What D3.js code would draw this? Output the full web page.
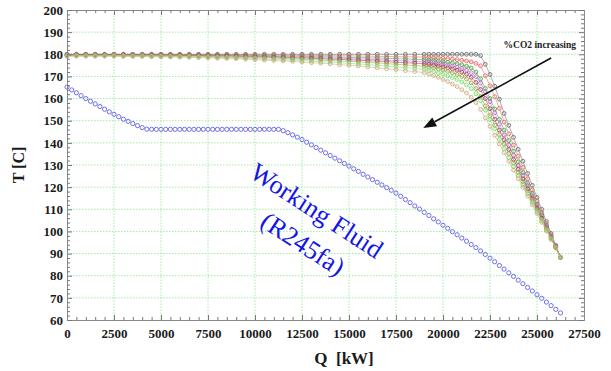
<!DOCTYPE html>
<html>
<head>
<meta charset="utf-8">
<script src="https://cdn.jsdelivr.net/npm/d3@7"></script>
<style>
  body { margin: 0; background: #fff; }
  svg { display: block; font-family: "Liberation Serif", "Times New Roman", serif; }
</style>
</head>
<body>
<svg id="chart" width="611" height="371"></svg>
<script>
// ---- data ----
const xTicks = [0, 2500, 5000, 7500, 10000, 12500, 15000, 17500, 20000, 22500, 25000, 27500];
const yTicks = [60, 70, 80, 90, 100, 110, 120, 130, 140, 150, 160, 170, 180, 190, 200];

// working fluid (R245fa), Q every 250 kW
const qWorking = d3.range(0, 26251, 250);
const tWorking = [
  165.2, 163.9, 162.6, 161.3, 160.0, 158.8, 157.6, 156.4, 155.2, 154.0, 152.9, 151.8, 150.7, 149.7, 148.7, 147.8, 146.9, 146.2,
  146.1, 146.1, 146.1, 146.1, 146.1, 146.1, 146.1, 146.1, 146.1, 146.1, 146.1, 146.1, 146.1, 146.1,
  146.1, 146.1, 146.1, 146.1, 146.1, 146.1, 146.1, 146.1, 146.1, 146.1, 146.1, 146.1, 146.1, 146.1,
  145.5, 144.6, 143.6, 142.6, 141.5, 140.3, 139.1, 137.9, 136.7, 135.5, 134.3, 133.1, 131.9, 130.7, 129.5,
  128.3, 127.1, 125.8, 124.6, 123.4, 122.2, 121.0, 119.8, 118.6, 117.3, 115.9, 114.4, 113.0, 111.5, 110.1,
  108.6, 107.2, 105.7, 104.3, 102.8, 101.4, 99.9, 98.5, 97.0, 95.6, 94.1, 92.7, 91.2, 89.6, 87.9,
  86.3, 84.6, 83.0, 81.3, 79.7, 78.0, 76.4, 74.7, 73.1, 71.4, 69.8, 68.1, 66.5, 64.8, 63.2
];

// flue gas curves, Q every 500 kW up to 18500 then every 250 kW
const qCO2 = d3.range(0, 19000, 500).concat(d3.range(19000, 26251, 250));
const co2Colors = ["#6e6e6e", "#e86a6a", "#44aa44", "#c86ad0", "#9a4858", "#a4a040", "#7ae07a", "#cfae80"];
const tCO2_1 = [
  180.0, 180.0, 180.0, 180.0, 180.0, 180.0, 180.0, 180.0, 180.0, 180.0, 180.0, 180.0, 180.0, 180.0, 180.0, 180.0, 180.0, 180.0, 180.0,
  180.0, 180.0, 180.0, 180.0, 180.0, 180.0, 180.0, 180.0, 180.0, 180.0, 180.0, 180.0, 180.0, 180.0, 180.0, 180.0, 180.0, 180.0, 180.0,
  180.0, 180.0, 180.0, 180.0, 180.0, 180.0, 180.0, 180.0, 180.0, 180.0, 180.0, 180.0,
  179.4, 175.5, 170.9, 165.6, 159.7, 153.3, 147.9, 142.5, 137.1, 131.7, 126.2, 120.8, 115.4, 110.0, 104.5, 99.1, 93.7, 88.3
];
const tCO2_2 = [
  180.0, 180.0, 180.0, 180.0, 180.0, 180.0, 180.0, 180.0, 180.0, 180.0, 180.0, 179.9, 179.9, 179.9, 179.9, 179.9, 179.9, 179.8, 179.8,
  179.8, 179.7, 179.7, 179.7, 179.6, 179.6, 179.5, 179.5, 179.4, 179.4, 179.3, 179.3, 179.2, 179.2, 179.1, 179.0, 178.9, 178.9, 178.8,
  178.7, 178.6, 178.5, 178.4, 178.2, 178.0, 177.8, 177.6, 177.3, 177.0, 176.6, 175.9,
  174.8, 170.3, 165.8, 160.9, 155.6, 149.4, 144.1, 139.0, 134.0, 128.9, 123.8, 118.8, 113.7, 108.6, 103.6, 98.5, 93.4, 88.3
];
const tCO2_3 = [
  179.9, 179.9, 179.9, 179.9, 179.9, 179.9, 179.9, 179.9, 179.9, 179.8, 179.8, 179.8, 179.8, 179.7, 179.7, 179.7, 179.6, 179.6, 179.5,
  179.5, 179.4, 179.4, 179.3, 179.2, 179.2, 179.1, 179.0, 178.9, 178.8, 178.7, 178.6, 178.5, 178.4, 178.3, 178.2, 178.0, 177.9, 177.7,
  177.6, 177.4, 177.2, 177.0, 176.7, 176.4, 176.1, 175.7, 175.2, 174.6, 173.8, 172.0,
  168.9, 164.6, 160.0, 155.3, 150.6, 145.8, 141.0, 136.2, 131.4, 126.6, 121.8, 117.1, 112.3, 107.5, 102.7, 97.9, 93.1, 88.3
];
const tCO2_4 = [
  179.8, 179.8, 179.8, 179.8, 179.8, 179.8, 179.8, 179.8, 179.7, 179.7, 179.7, 179.7, 179.6, 179.6, 179.5, 179.5, 179.4, 179.4, 179.3,
  179.2, 179.2, 179.1, 179.0, 178.9, 178.8, 178.7, 178.6, 178.4, 178.3, 178.2, 178.0, 177.9, 177.7, 177.6, 177.4, 177.2, 177.0, 176.8,
  176.6, 176.4, 176.1, 175.8, 175.5, 175.1, 174.7, 174.2, 173.6, 172.8, 171.7, 169.9,
  167.0, 163.1, 158.6, 153.6, 148.4, 143.6, 139.0, 134.4, 129.8, 125.3, 120.7, 116.1, 111.5, 106.9, 102.3, 97.6, 93.0, 88.4
];
const tCO2_5 = [
  179.7, 179.7, 179.7, 179.7, 179.7, 179.7, 179.7, 179.6, 179.6, 179.6, 179.6, 179.5, 179.5, 179.4, 179.4, 179.3, 179.2, 179.2, 179.1,
  179.0, 178.9, 178.8, 178.7, 178.6, 178.4, 178.3, 178.2, 178.0, 177.8, 177.7, 177.5, 177.3, 177.1, 176.9, 176.7, 176.4, 176.2, 176.0,
  175.7, 175.4, 175.1, 174.7, 174.3, 173.9, 173.4, 172.8, 172.0, 171.0, 169.6, 167.3,
  164.1, 160.0, 155.4, 150.6, 145.8, 141.4, 137.0, 132.5, 128.1, 123.7, 119.3, 114.9, 110.5, 106.0, 101.6, 97.2, 92.8, 88.4
];
const tCO2_6 = [
  179.5, 179.5, 179.5, 179.5, 179.5, 179.5, 179.5, 179.4, 179.4, 179.4, 179.3, 179.3, 179.2, 179.2, 179.1, 179.0, 178.9, 178.8, 178.7,
  178.6, 178.5, 178.4, 178.3, 178.1, 177.9, 177.8, 177.6, 177.4, 177.2, 177.0, 176.8, 176.6, 176.3, 176.1, 175.8, 175.5, 175.2, 174.9,
  174.6, 174.2, 173.8, 173.4, 172.9, 172.3, 171.7, 170.9, 170.0, 168.8, 167.1, 164.5,
  160.9, 156.7, 152.3, 148.0, 143.7, 139.5, 135.2, 131.0, 126.7, 122.5, 118.3, 114.0, 109.8, 105.5, 101.3, 97.0, 92.8, 88.4
];
const tCO2_7 = [
  179.3, 179.3, 179.3, 179.3, 179.3, 179.3, 179.2, 179.2, 179.2, 179.1, 179.1, 179.0, 179.0, 178.9, 178.8, 178.7, 178.6, 178.5, 178.4,
  178.2, 178.1, 177.9, 177.7, 177.6, 177.4, 177.2, 176.9, 176.7, 176.5, 176.2, 175.9, 175.6, 175.3, 175.0, 174.7, 174.3, 174.0, 173.6,
  173.2, 172.7, 172.2, 171.6, 171.0, 170.3, 169.5, 168.6, 167.5, 166.2, 164.5, 162.2,
  159.1, 154.8, 150.6, 146.4, 141.5, 137.4, 133.3, 129.3, 125.2, 121.1, 117.0, 113.0, 108.9, 104.8, 100.7, 96.6, 92.5, 88.4
];
const tCO2_8 = [
  179.1, 179.1, 179.1, 179.1, 179.1, 179.1, 179.0, 179.0, 179.0, 178.9, 178.8, 178.8, 178.7, 178.6, 178.5, 178.4, 178.2, 178.1, 178.0,
  177.8, 177.6, 177.4, 177.2, 177.0, 176.8, 176.5, 176.2, 176.0, 175.7, 175.3, 175.0, 174.7, 174.3, 173.9, 173.5, 173.1, 172.6, 172.2,
  171.7, 171.1, 170.4, 169.6, 168.7, 167.7, 166.6, 165.4, 164.0, 162.5, 160.6, 158.2,
  155.1, 151.3, 147.4, 143.4, 139.5, 135.6, 131.7, 127.7, 123.8, 119.9, 115.9, 112.0, 108.1, 104.1, 100.2, 96.3, 92.4, 88.4
];
const co2Series = [tCO2_1, tCO2_2, tCO2_3, tCO2_4, tCO2_5, tCO2_6, tCO2_7, tCO2_8];

// annotation anchors in data units [Q, T]
const arrowFrom = [25750, 178.3];
const arrowTo = [18950, 146.7];
const co2Label = [25150, 182.8];
const fluidLabel1 = [13030, 106.1];
const fluidLabel2 = [12290, 91.1];

// ---- layout ----
const W = 611, H = 371;
const margin = {top: 10, right: 27, bottom: 51, left: 67};
const svg = d3.select("#chart");

const x = d3.scaleLinear().domain([0, 27500]).range([margin.left, W - margin.right]);
const y = d3.scaleLinear().domain([60, 200]).range([H - margin.bottom, margin.top]);

const xMinor = d3.range(0, 27501, 500).filter(v => v % 2500 !== 0);
const yMinor = d3.range(60, 201, 2).filter(v => v % 10 !== 0);

// grid
const grid = svg.append("g").attr("stroke", "#a4eaa4").attr("stroke-width", 1).attr("stroke-dasharray", "1.5,1.5");
grid.selectAll(".gx").data(xTicks.slice(1, -1)).join("line")
  .attr("x1", d => x(d)).attr("x2", d => x(d))
  .attr("y1", y(60)).attr("y2", y(200));
grid.selectAll(".gy").data(yTicks.slice(1, -1)).join("line")
  .attr("x1", x(0)).attr("x2", x(27500))
  .attr("y1", d => y(d)).attr("y2", d => y(d));

// series
const lineGen = d3.line().x(d => x(d[0])).y(d => y(d[1]));

co2Series.forEach((tv, i) => {
  const pts = qCO2.map((q, j) => [q, tv[j]]);
  const g = svg.append("g");
  g.append("path").datum(pts)
    .attr("d", lineGen).attr("fill", "none")
    .attr("stroke", co2Colors[i]).attr("stroke-width", 0.8).attr("opacity", 0.7);
  g.selectAll("circle").data(pts).join("circle")
    .attr("cx", d => x(d[0])).attr("cy", d => y(d[1])).attr("r", 1.9)
    .attr("fill", "none").attr("stroke", co2Colors[i]).attr("stroke-width", 0.9);
});

const wf = qWorking.map((q, j) => [q, tWorking[j]]);
svg.append("g").selectAll("circle").data(wf).join("circle")
  .attr("cx", d => x(d[0])).attr("cy", d => y(d[1])).attr("r", 2.1)
  .attr("fill", "none").attr("stroke", "#6f6fe6").attr("stroke-width", 1);

// axes (ticks point inward)
function styleAxis(g) {
  g.select(".domain").attr("stroke", "#8a8a8a");
  g.selectAll(".tick line").attr("stroke", "#777");
  g.selectAll(".tick text").attr("fill", "#1a1a1a")
    .attr("font-size", 13).attr("font-weight", "bold")
    .attr("font-family", "'Liberation Serif', 'Times New Roman', serif");
}
const bottomY = y(60), topY = y(200), leftX = x(0), rightX = x(27500);

svg.append("g").attr("transform", `translate(0,${bottomY})`)
  .call(d3.axisBottom(x).tickValues(xTicks).tickFormat(d3.format("d")).tickSizeInner(-5).tickSizeOuter(0).tickPadding(9))
  .call(styleAxis);
svg.append("g").attr("transform", `translate(0,${bottomY})`)
  .call(d3.axisBottom(x).tickValues(xMinor).tickFormat("").tickSizeInner(-3).tickSizeOuter(0))
  .call(styleAxis);
svg.append("g").attr("transform", `translate(0,${topY})`)
  .call(d3.axisTop(x).tickValues(xTicks).tickFormat("").tickSizeInner(-5).tickSizeOuter(0))
  .call(styleAxis);
svg.append("g").attr("transform", `translate(0,${topY})`)
  .call(d3.axisTop(x).tickValues(xMinor).tickFormat("").tickSizeInner(-3).tickSizeOuter(0))
  .call(styleAxis);

svg.append("g").attr("transform", `translate(${leftX},0)`)
  .call(d3.axisLeft(y).tickValues(yTicks).tickFormat(d3.format("d")).tickSizeInner(-5).tickSizeOuter(0).tickPadding(4))
  .call(styleAxis);
svg.append("g").attr("transform", `translate(${leftX},0)`)
  .call(d3.axisLeft(y).tickValues(yMinor).tickFormat("").tickSizeInner(-3).tickSizeOuter(0))
  .call(styleAxis);
svg.append("g").attr("transform", `translate(${rightX},0)`)
  .call(d3.axisRight(y).tickValues(yTicks).tickFormat("").tickSizeInner(-5).tickSizeOuter(0))
  .call(styleAxis);
svg.append("g").attr("transform", `translate(${rightX},0)`)
  .call(d3.axisRight(y).tickValues(yMinor).tickFormat("").tickSizeInner(-3).tickSizeOuter(0))
  .call(styleAxis);

// axis titles
svg.append("text")
  .attr("x", 344).attr("y", 364)
  .attr("text-anchor", "middle").attr("font-size", 17).attr("font-weight", "bold")
  .attr("fill", "#1a1a1a").style("white-space", "pre")
  .text("Q  [kW]");
svg.append("text")
  .attr("transform", `translate(24,${(topY + bottomY) / 2}) rotate(-90)`)
  .attr("text-anchor", "middle").attr("font-size", 16).attr("font-weight", "bold")
  .attr("fill", "#1a1a1a")
  .text("T [C]");

// annotations
const ax0 = x(arrowFrom[0]), ay0 = y(arrowFrom[1]);
const ax1 = x(arrowTo[0]), ay1 = y(arrowTo[1]);
const ang = Math.atan2(ay1 - ay0, ax1 - ax0);
const headLen = 13, headW = 5;
const bx = ax1 - headLen * Math.cos(ang), by = ay1 - headLen * Math.sin(ang);
svg.append("line")
  .attr("x1", ax0).attr("y1", ay0).attr("x2", bx).attr("y2", by)
  .attr("stroke", "#111").attr("stroke-width", 1.6);
svg.append("path")
  .attr("d", `M${ax1},${ay1} L${bx - headW * Math.sin(ang)},${by + headW * Math.cos(ang)} L${bx + headW * Math.sin(ang)},${by - headW * Math.cos(ang)} Z`)
  .attr("fill", "#111");

svg.append("text")
  .attr("x", x(co2Label[0])).attr("y", y(co2Label[1]))
  .attr("text-anchor", "middle").attr("font-size", 9.5).attr("font-weight", "bold")
  .attr("fill", "#222")
  .text("%CO2 increasing");

svg.append("text")
  .attr("transform", `translate(${x(fluidLabel1[0])},${y(fluidLabel1[1])}) rotate(33)`)
  .attr("text-anchor", "middle").attr("font-size", 26).attr("fill", "#1414e6")
  .text("Working Fluid");
svg.append("text")
  .attr("transform", `translate(${x(fluidLabel2[0])},${y(fluidLabel2[1])}) rotate(33)`)
  .attr("text-anchor", "middle").attr("font-size", 26).attr("fill", "#1414e6")
  .text("(R245fa)");
</script>
</body>
</html>
